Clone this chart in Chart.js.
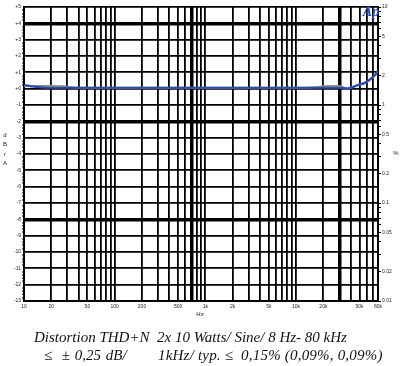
<!DOCTYPE html>
<html><head><meta charset="utf-8">
<script src="https://cdn.jsdelivr.net/npm/chart.js@4.4.1/dist/chart.umd.min.js"></script>
<style>
html,body{margin:0;padding:0;background:#fff;}
#wrap{position:relative;width:402px;height:366px;overflow:hidden;}
canvas{position:absolute;left:0;top:0;}
.cap{position:absolute;font-family:"Liberation Serif","DejaVu Serif",serif;font-style:italic;font-size:15px;color:#111;white-space:pre;line-height:1;}
</style></head><body>
<div id="wrap"><canvas id="c" width="402" height="366"></canvas>
<div class="cap" style="left:34px;top:330px">Distortion THD+N  2x 10 Watts/ Sine/ 8 Hz- 80 kHz</div>
<div class="cap" style="left:44px;top:348px;word-spacing:1px">≤  ± 0,25 dB/</div>
<div class="cap" style="left:158px;top:348px;letter-spacing:0.2px">1kHz/ typ. ≤  0,15% (0,09%, 0,09%)</div>
</div>
<script>
// ---- data ----
const freqGridHz = [10,20,30,40,50,60,70,80,90,100,200,300,400,500,600,700,800,900,1000,
  2000,3000,4000,5000,6000,7000,8000,9000,10000,20000,30000,40000,50000,60000,70000,80000];
const freqLabelValues = [10,20,50,100,200,500,1000,2000,5000,10000,20000,50000,80000];
const freqLabels = ['10','20','50','100','200','500','1k','2k','5k','10k','20k','50k','80k'];
const dbrTicks = [5,4,3,2,1,0,-1,-2,-3,-4,-5,-6,-7,-8,-9,-10,-11,-12,-13];
const dbrLabels = ['+5','+4','+3','+2','+1','+0','-1','-2','-3','-4','-5','-6','-7','-8','-9','-10','-11','-12','-13'];
const pctTicks = [0.01,0.02,0.03,0.04,0.05,0.06,0.07,0.08,0.09,0.1,0.2,0.3,0.4,0.5,0.6,0.7,0.8,0.9,1,2,3,4,5,6,7,8,9,10];
const pctLabelValues = [0.01,0.02,0.05,0.1,0.2,0.5,1,2,5,10];
const pctLabels = ['0.01','0.02','0.05','0.1','0.2','0.5','1','2','5','10'];

// channel A (blue) THD+N %
const freqA = [10,13,17,30,100,1000,10000,30000,36600,46600,60000,69000,77000,80000];
const thdA  = [1.60,1.54,1.50,1.50,1.50,1.50,1.50,1.50,1.47,1.58,1.72,1.90,2.10,2.19];
// channel B (grey) THD+N %
const freqB = [10,20,27,40,5000,10000,18000,22000,30000,36600,46600,60000,69000,80000];
const thdB  = [1.56,1.56,1.55,1.50,1.50,1.50,1.53,1.56,1.56,1.47,1.58,1.72,1.90,2.19];

const thickX = [700,30000];
const thickY = [4,-2,-8];

const labelX = {}; freqLabelValues.forEach((v,i)=>labelX[String(v)]=freqLabels[i]);
const labelPct = {}; pctLabelValues.forEach((v,i)=>labelPct[String(v)]=pctLabels[i]);
const labelDb = {}; dbrTicks.forEach((v,i)=>labelDb[String(v)]=dbrLabels[i]);
const minorDb = [];
for (let v=-13; v<5; v++) for (let k=1;k<5;k++) minorDb.push(+(v+k*0.2).toFixed(1));

const tickFont = {family:'"Liberation Sans", Arial, sans-serif', size:5};

const textPlugin = {
  id:'texts',
  afterDraw(chart){
    const c = chart.ctx;
    c.save();
    c.fillStyle = '#222';
    c.font = '6px "Liberation Sans", Arial, sans-serif';
    c.textAlign = 'center'; c.textBaseline = 'middle';
    ['d','B','r','A'].forEach((ch,i)=>c.fillText(ch, 5, 135 + i*9.5));
    c.fillText('%', 396, 153);
    c.fillText('Hz', 200, 314);
    c.fillStyle = '#2f52b8';
    c.font = 'bold italic 14px "Liberation Serif", serif';
    c.fillText('Ap', 371, 12);
    c.restore();
  }
};

new Chart(document.getElementById('c'), {
  type:'line',
  data:{datasets:[
    {label:'Ch A', data:freqA.map((f,i)=>({x:f,y:thdA[i]})), borderColor:'#2a4cb0', borderWidth:2.2,
     pointRadius:0, yAxisID:'y', cubicInterpolationMode:'monotone', order:0},
    {label:'Ch B', data:freqB.map((f,i)=>({x:f,y:thdB[i]})), borderColor:'#8f8f8f', borderWidth:2,
     pointRadius:0, yAxisID:'y', cubicInterpolationMode:'monotone', order:1}
  ]},
  options:{
    responsive:false, animation:false, devicePixelRatio:1,
    plugins:{legend:{display:false}, tooltip:{enabled:false}},
    layout:{padding:{top:7,left:0,right:0,bottom:0}},
    scales:{
      x:{type:'logarithmic', min:10, max:80000,
        afterBuildTicks:s=>{s.ticks = freqGridHz.map(v=>({value:v}));},
        afterFit:s=>{s.height = 65;},
        grid:{color:'#000', lineWidth:c=> thickX.includes(c.tick && c.tick.value) ? 3.5 : 1.8, drawTicks:false},
        border:{display:true, color:'#000', width:2},
        ticks:{autoSkip:false, maxRotation:0, minRotation:0, padding:3, font:tickFont, color:'#222',
          callback:(v)=> labelX[String(v)] ?? ''}
      },
      yL:{type:'linear', position:'left', min:-13, max:5,
        afterBuildTicks:s=>{s.ticks = dbrTicks.concat(minorDb).map(v=>({value:v}));},
        afterFit:s=>{s.width = 24;},
        grid:{color:'#000', lineWidth:c=>{const v=c.tick&&c.tick.value; if(!Number.isInteger(v)) return 0; return thickY.includes(v)?3.5:1.8;},
          tickLength:2, tickWidth:c=> Number.isInteger(c.tick&&c.tick.value)?0:1, tickColor:'#000'},
        border:{display:true, color:'#000', width:2},
        ticks:{autoSkip:false, padding:1, font:tickFont, color:'#222',
          callback:(v)=> labelDb[String(v)] ?? ''}
      },
      y:{type:'logarithmic', position:'right', min:0.01, max:10,
        afterBuildTicks:s=>{s.ticks = pctTicks.map(v=>({value:v}));},
        afterFit:s=>{s.width = 24;},
        grid:{drawOnChartArea:false, tickLength:3, color:'#000', lineWidth:1},
        border:{display:true, color:'#000', width:2},
        ticks:{autoSkip:false, padding:1, font:tickFont, color:'#222',
          callback:(v)=> labelPct[String(v)] ?? ''}
      }
    }
  },
  plugins:[textPlugin]
});
</script>
</body></html>
